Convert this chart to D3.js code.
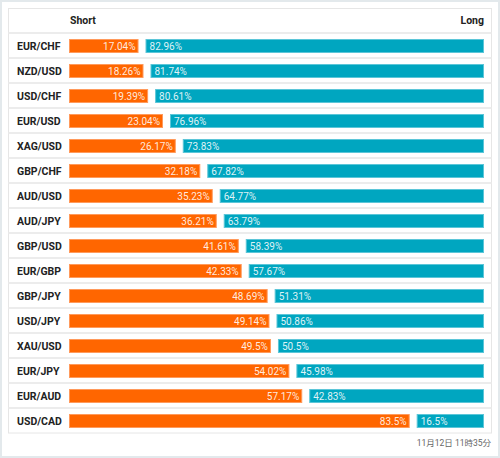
<!DOCTYPE html>
<html><head><meta charset="utf-8">
<script src="https://cdn.jsdelivr.net/npm/d3@7/dist/d3.min.js"></script>
<style>
html,body{margin:0;padding:0;background:#fff;}
svg{display:block;font-family:Roboto,"Noto Sans CJK JP",sans-serif;}
</style></head><body>
<script>
const pairs = ["EUR/CHF","NZD/USD","USD/CHF","EUR/USD","XAG/USD","GBP/CHF","AUD/USD","AUD/JPY","GBP/USD","EUR/GBP","GBP/JPY","USD/JPY","XAU/USD","EUR/JPY","EUR/AUD","USD/CAD"];
const shortPct = [17.04,18.26,19.39,23.04,26.17,32.18,35.23,36.21,41.61,42.33,48.69,49.14,49.5,54.02,57.17,83.5];
const longPct  = [82.96,81.74,80.61,76.96,73.83,67.82,64.77,63.79,58.39,57.67,51.31,50.86,50.5,45.98,42.83,16.5];
const headers = ["Short","Long"];
const timestamp = "11月12日 11時35分";

const W=500,H=458;
const svg=d3.select("body").append("svg").attr("width",W).attr("height",H);
svg.append("rect").attr("x",1).attr("y",1).attr("width",W-2).attr("height",H-2)
  .attr("fill","#fff").attr("stroke","#e3e9ec").attr("stroke-width",2);

const tX0=8.5,tX1=491.5,tY0=8.5,rowH=25;
const y=d3.scaleBand().domain(pairs).range([33,33+rowH*pairs.length]);
const barL=69,barR=484,gap=7;
const x=d3.scaleLinear().domain([0,100]).range([0,barR-barL-gap]);

svg.append("rect").attr("x",tX0).attr("y",tY0).attr("width",tX1-tX0).attr("height",y.range()[1]-tY0)
  .attr("fill","#fff").attr("stroke","#e6e6e6").attr("stroke-width",1);
svg.selectAll("line.sep").data(pairs).join("line").attr("class","sep")
  .attr("x1",tX0).attr("x2",tX1).attr("y1",d=>y(d)).attr("y2",d=>y(d))
  .attr("stroke","#ececec").attr("stroke-width",2);

svg.append("text").attr("x",barL+1).attr("y",24).attr("font-size",10.5).attr("font-weight","bold").attr("fill","#222").text(headers[0]);
svg.append("text").attr("x",barR).attr("y",24).attr("text-anchor","end").attr("font-size",10.5).attr("font-weight","bold").attr("fill","#222").text(headers[1]);

const rows=svg.selectAll("g.row").data(pairs.map((p,i)=>({p,s:shortPct[i],l:longPct[i]}))).join("g").attr("class","row")
  .attr("transform",d=>`translate(0,${y(d.p)})`);
rows.append("text").attr("x",17).attr("y",16.5).attr("font-size",10.5).attr("font-weight","bold").attr("fill","#222").text(d=>d.p);
rows.append("rect").attr("x",barL+0.5).attr("y",6.5).attr("width",d=>x(d.s)-1).attr("height",13)
  .attr("fill","#ff6600").attr("stroke","#ff9a5c").attr("stroke-width",1);
rows.append("rect").attr("x",d=>barL+x(d.s)+gap+0.5).attr("y",6.5).attr("width",d=>x(d.l)-1).attr("height",13)
  .attr("fill","#00a6c0").attr("stroke","#5cc6d8").attr("stroke-width",1);
rows.append("text").attr("x",d=>barL+x(d.s)-3).attr("y",16.5).attr("text-anchor","end").attr("font-size",10)
  .attr("fill","#fff").attr("fill-opacity",0.88).text(d=>d.s+"%");
rows.append("text").attr("x",d=>barL+x(d.s)+gap+4).attr("y",16.5).attr("font-size",10)
  .attr("fill","#fff").attr("fill-opacity",0.88).text(d=>d.l+"%");

svg.append("text").attr("x",491).attr("y",446).attr("text-anchor","end").attr("font-size",8.5).attr("fill","#666").text(timestamp);
</script></body></html>
